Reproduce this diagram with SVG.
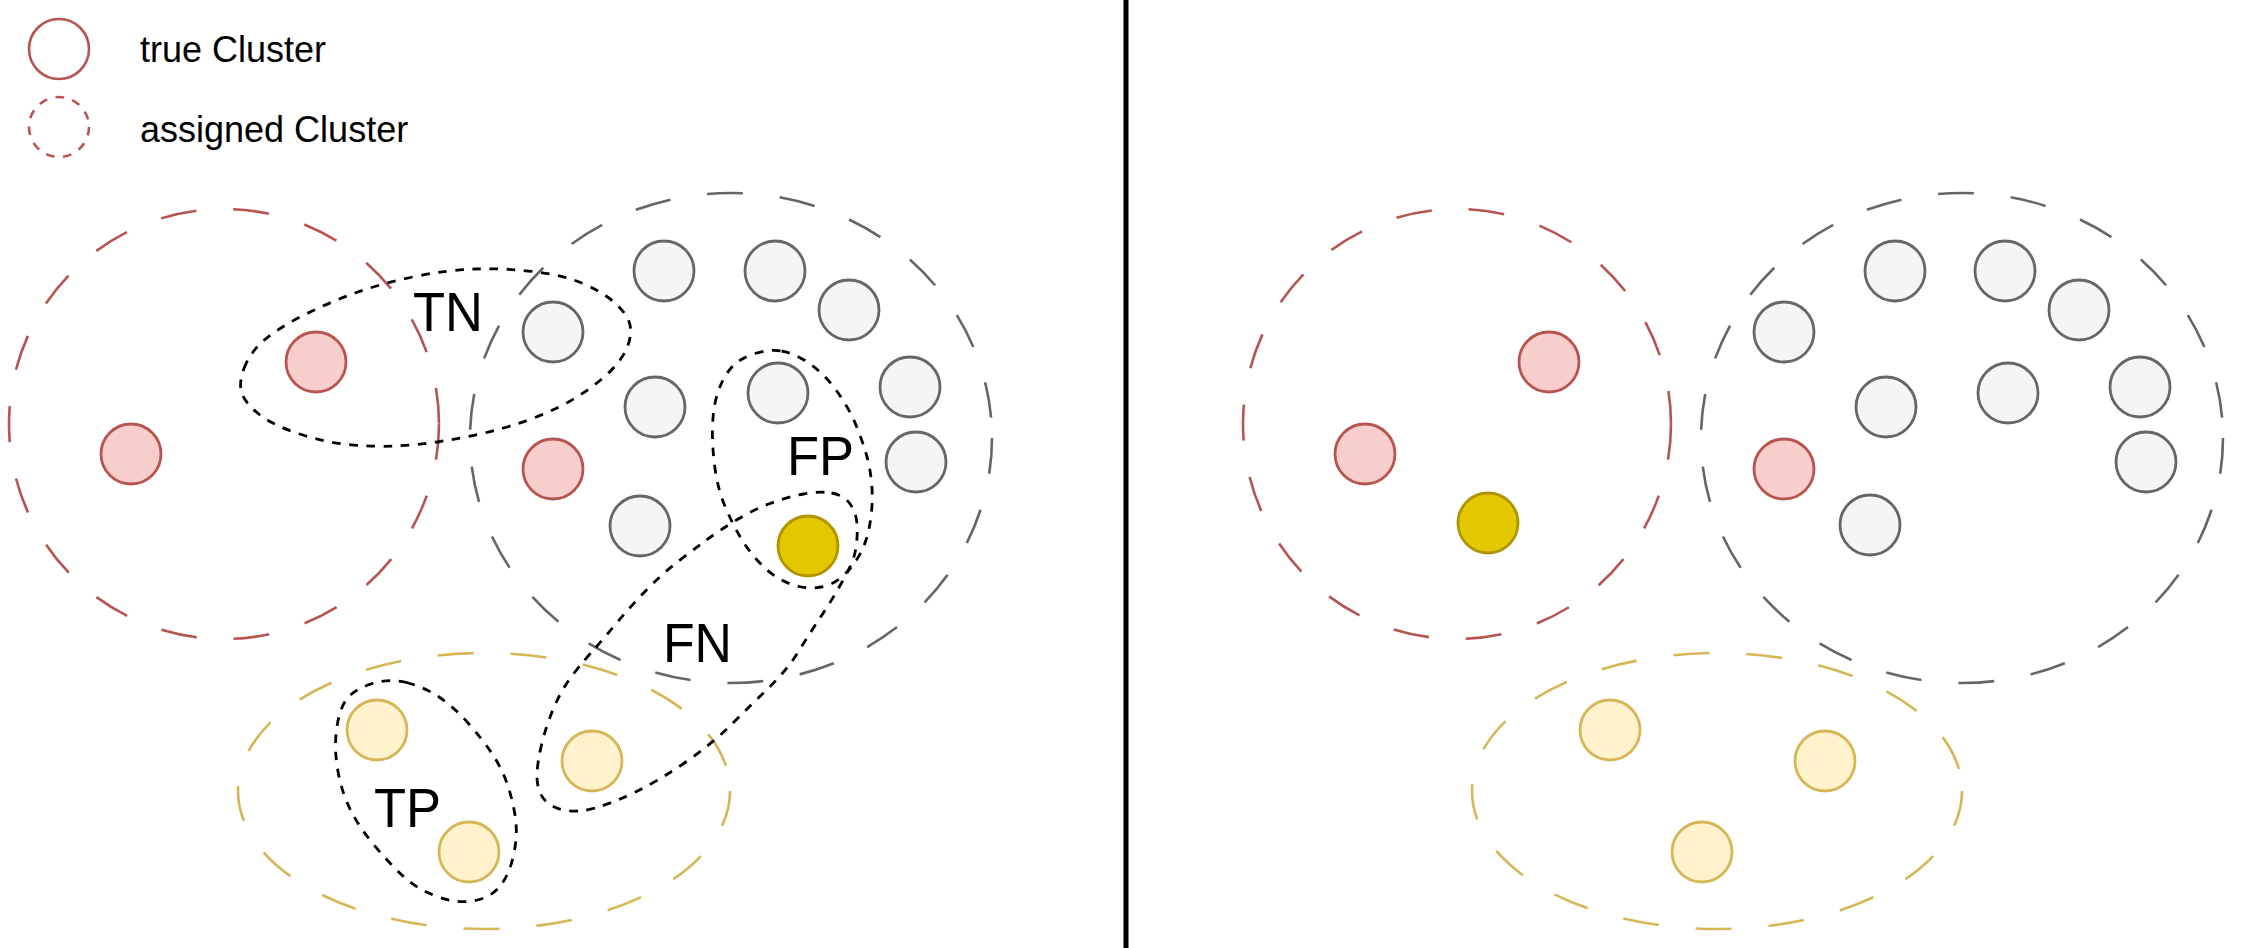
<svg xmlns="http://www.w3.org/2000/svg" width="2243" height="948" viewBox="0 0 2243 948">
<style>
.bg{fill:#ffffff}
.big{fill:none;stroke-width:2.6;stroke-dasharray:36 37}
.bred{stroke:#b85450}
.bgray{stroke:#666666}
.byel{stroke:#d6b656}
.pt{stroke-width:2.8}
.red{fill:#f8cecc;stroke:#b85450}
.gray{fill:#f5f5f5;stroke:#666666}
.yel{fill:#fff2cc;stroke:#d6b656}
.dyel{fill:#e3c800;stroke:#b09500}
.sel{fill:none;stroke:#000000;stroke-width:2.8;stroke-dasharray:8.6 8.6;stroke-linejoin:round}
.lbl{font-family:"Liberation Sans",Arial,sans-serif;font-size:56px;fill:#000000}
.leg{font-family:"Liberation Sans",Arial,sans-serif;font-size:36px;fill:#000000}
</style>
<rect class="bg" x="0" y="0" width="2243" height="948"/>

<g id="legend">
  <circle cx="59" cy="49" r="30" fill="none" stroke="#b85450" stroke-width="2.6"/>
  <text class="leg" x="140" y="62">true Cluster</text>
  <circle cx="59" cy="127" r="30" fill="none" stroke="#b85450" stroke-width="2.6" stroke-dasharray="8.6 8.6"/>
  <text class="leg" x="140" y="142">assigned Cluster</text>
</g>

<g id="divider">
  <line x1="1126" y1="0" x2="1126" y2="948" stroke="#000000" stroke-width="5"/>
</g>

<!-- Left panel -->
<g id="left-assigned-red"><ellipse class="big bred" cx="224" cy="424" rx="215" ry="215"/></g>
<g id="left-assigned-gray"><ellipse class="big bgray" cx="731" cy="438" rx="261" ry="245"/></g>
<g id="left-assigned-yellow"><ellipse class="big byel" cx="484" cy="791" rx="246" ry="138"/></g>

<g id="left-points" class="pt">
  <circle class="red" cx="316" cy="362" r="30"/>
  <circle class="red" cx="131" cy="454" r="30"/>
  <circle class="red" cx="553" cy="469" r="30"/>
  <circle class="gray" cx="553" cy="332" r="30"/>
  <circle class="gray" cx="664" cy="271" r="30"/>
  <circle class="gray" cx="775" cy="271" r="30"/>
  <circle class="gray" cx="849" cy="310" r="30"/>
  <circle class="gray" cx="655" cy="407" r="30"/>
  <circle class="gray" cx="778" cy="393" r="30"/>
  <circle class="gray" cx="910" cy="387" r="30"/>
  <circle class="gray" cx="916" cy="462" r="30"/>
  <circle class="gray" cx="640" cy="526" r="30"/>
  <circle class="dyel" cx="808" cy="546" r="30"/>
  <circle class="yel" cx="377" cy="730" r="30"/>
  <circle class="yel" cx="592" cy="761" r="30"/>
  <circle class="yel" cx="469" cy="852" r="30"/>
</g>

<g id="TN">
  <path class="sel" d="M244,368.5 Q250,352 265,339.5 Q280,327 305,314.5 Q330,302 356.5,292.5 Q383,283 415,276.5 Q447,270 475,269 Q503,268 533,271.5 Q563,275 583,283.5 Q603,292 615.5,303.5 Q628,315 630,325 Q632,335 627.5,346.5 Q623,358 611.5,370 Q600,382 580,395 Q560,408 535,417.5 Q510,427 486.5,432.5 Q463,438 440,441.5 Q417,445 395,446 Q373,447 348,444.5 Q323,442 298,433.5 Q273,425 260,415 Q247,405 242.5,395 Q238,385 244,368.5 Z"/>
  <text class="lbl" x="413" y="331" textLength="70" lengthAdjust="spacingAndGlyphs">TN</text>
</g>

<g id="FP">
  <path class="sel" d="M781.5,351 Q793,353 805,360.5 Q817,368 827,379 Q837,390 845,403.5 Q853,417 858,430 Q863,443 866.5,455 Q870,467 871.5,482 Q873,497 871.5,512 Q870,527 866.5,538.5 Q863,550 856.5,560 Q850,570 841,577.5 Q832,585 821,587 Q810,589 799,586.5 Q788,584 778,578 Q768,572 758,561 Q748,550 740.5,537.5 Q733,525 725.5,507.5 Q718,490 715,468.5 Q712,447 712.5,427 Q713,407 718,392 Q723,377 731.5,367.5 Q740,358 755,353.5 Q770,349 781.5,351 Z"/>
  <text class="lbl" x="787" y="475" textLength="67" lengthAdjust="spacingAndGlyphs">FP</text>
</g>

<g id="FN">
  <path class="sel" d="M831.5,493 Q843,495 849,502.5 Q855,510 856.5,520 Q858,530 856.5,543.5 Q855,557 850,567 Q845,577 837.5,590 Q830,603 820,618 Q810,633 798.5,651.5 Q787,670 770,686.5 Q753,703 733,723 Q713,743 686.5,761.5 Q660,780 636.5,791.5 Q613,803 595,808 Q577,813 563.5,810 Q550,807 543.5,798.5 Q537,790 537,776.5 Q537,763 542,743 Q547,723 555,705 Q563,687 575,672 Q587,657 593.5,650 Q600,643 615,625 Q630,607 646.5,590 Q663,573 678,561.5 Q693,550 706.5,540 Q720,530 736.5,520 Q753,510 770,503.5 Q787,497 803.5,494 Q820,491 831.5,493 Z"/>
  <text class="lbl" x="663" y="662" textLength="69" lengthAdjust="spacingAndGlyphs">FN</text>
</g>

<g id="TP">
  <path class="sel" d="M406.5,682.5 Q424,687 439,697 Q454,707 468.5,723.5 Q483,740 492,753.5 Q501,767 506.5,782 Q512,797 515,815 Q518,833 514,853 Q510,873 501,885 Q492,897 475.5,900.5 Q459,904 438.5,897 Q418,890 403.5,876.5 Q389,863 374,845 Q359,827 350.5,810 Q342,793 338,771.5 Q334,750 336.5,730 Q339,710 346,700 Q353,690 371,684 Q389,678 406.5,682.5 Z"/>
  <text class="lbl" x="374" y="827" textLength="67" lengthAdjust="spacingAndGlyphs">TP</text>
</g>

<!-- Right panel -->
<g id="right-assigned-red"><ellipse class="big bred" cx="1457" cy="424" rx="214" ry="215"/></g>
<g id="right-assigned-gray"><ellipse class="big bgray" cx="1962" cy="438" rx="261" ry="245"/></g>
<g id="right-assigned-yellow"><ellipse class="big byel" cx="1717" cy="791" rx="245" ry="138"/></g>

<g id="right-points" class="pt">
  <circle class="red" cx="1549" cy="362" r="30"/>
  <circle class="red" cx="1365" cy="454" r="30"/>
  <circle class="dyel" cx="1488" cy="523" r="30"/>
  <circle class="gray" cx="1784" cy="332" r="30"/>
  <circle class="gray" cx="1895" cy="271" r="30"/>
  <circle class="gray" cx="2005" cy="271" r="30"/>
  <circle class="gray" cx="2079" cy="310" r="30"/>
  <circle class="gray" cx="1886" cy="407" r="30"/>
  <circle class="gray" cx="2008" cy="393" r="30"/>
  <circle class="gray" cx="2140" cy="387" r="30"/>
  <circle class="gray" cx="2146" cy="462" r="30"/>
  <circle class="gray" cx="1870" cy="525" r="30"/>
  <circle class="red" cx="1784" cy="469" r="30"/>
  <circle class="yel" cx="1610" cy="730" r="30"/>
  <circle class="yel" cx="1825" cy="761" r="30"/>
  <circle class="yel" cx="1702" cy="852" r="30"/>
</g>
</svg>
